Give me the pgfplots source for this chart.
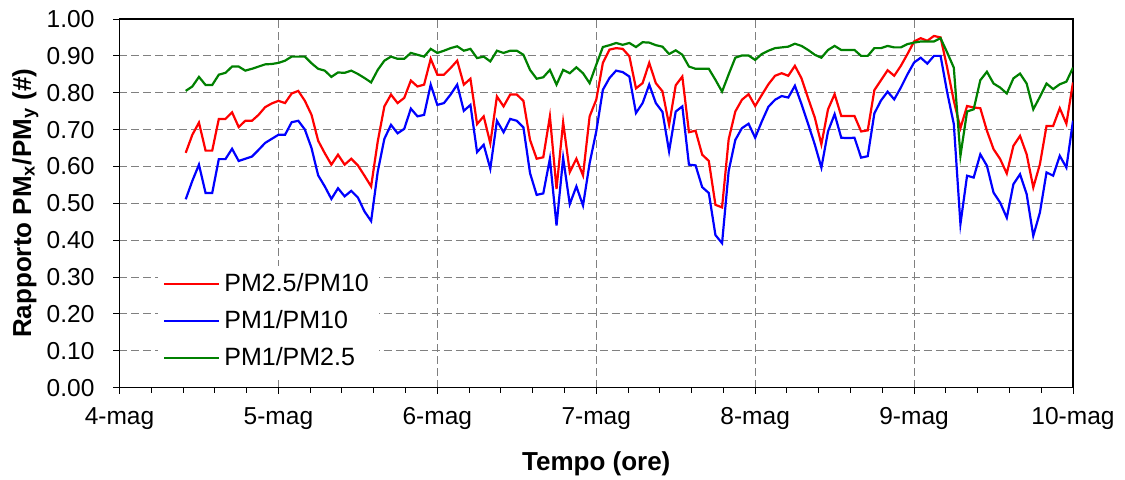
\documentclass[border=0pt]{standalone}
\usepackage{fontspec}
\setmainfont{Liberation Sans}
\usepackage{pgfplots}
\usepackage{pgfplotstable}
\pgfplotsset{compat=1.18}

% h = hours after 4-mag 00:00
% r = PM2.5/PM10, b = PM1/PM10, g = PM1/PM2.5
\pgfplotstableread{
h r b g
10 0.637 0.511 0.805
11 0.686 0.561 0.817
12 0.719 0.605 0.843
13 0.643 0.528 0.821
14 0.643 0.528 0.821
15 0.729 0.620 0.849
16 0.729 0.620 0.854
17 0.747 0.648 0.871
18 0.707 0.615 0.871
19 0.724 0.621 0.860
20 0.724 0.627 0.865
21 0.740 0.645 0.871
22 0.761 0.664 0.877
23 0.771 0.675 0.878
24 0.778 0.686 0.881
25 0.772 0.686 0.887
26 0.798 0.720 0.898
27 0.805 0.724 0.898
28 0.778 0.700 0.898
29 0.740 0.650 0.880
30 0.670 0.576 0.865
31 0.636 0.546 0.860
32 0.605 0.512 0.843
33 0.632 0.541 0.855
34 0.605 0.519 0.854
35 0.621 0.534 0.860
36 0.603 0.516 0.851
37 0.575 0.478 0.840
38 0.546 0.452 0.828
39 0.668 0.586 0.862
40 0.763 0.675 0.887
41 0.795 0.713 0.898
42 0.772 0.690 0.892
43 0.786 0.702 0.892
44 0.833 0.757 0.908
45 0.817 0.736 0.903
46 0.822 0.740 0.898
47 0.892 0.822 0.919
48 0.849 0.767 0.908
49 0.849 0.772 0.914
50 0.867 0.795 0.921
51 0.887 0.822 0.926
52 0.822 0.751 0.914
53 0.838 0.767 0.919
54 0.715 0.639 0.894
55 0.736 0.659 0.898
56 0.663 0.594 0.885
57 0.790 0.724 0.914
58 0.763 0.693 0.908
59 0.795 0.729 0.914
60 0.795 0.724 0.914
61 0.778 0.706 0.903
62 0.672 0.582 0.862
63 0.621 0.523 0.838
64 0.625 0.527 0.842
65 0.736 0.621 0.862
66 0.539 0.440 0.822
67 0.720 0.623 0.862
68 0.585 0.498 0.853
69 0.621 0.546 0.869
70 0.576 0.494 0.853
71 0.736 0.609 0.826
72 0.781 0.695 0.876
73 0.881 0.808 0.924
74 0.917 0.840 0.929
75 0.921 0.860 0.935
76 0.919 0.856 0.930
77 0.899 0.844 0.935
78 0.812 0.745 0.924
79 0.826 0.772 0.937
80 0.881 0.822 0.936
81 0.826 0.772 0.929
82 0.804 0.748 0.925
83 0.713 0.641 0.905
84 0.820 0.749 0.915
85 0.844 0.763 0.903
86 0.693 0.605 0.871
87 0.697 0.603 0.865
88 0.632 0.544 0.865
89 0.615 0.528 0.865
90 0.496 0.414 0.835
91 0.489 0.392 0.803
92 0.674 0.588 0.850
93 0.749 0.672 0.895
94 0.781 0.704 0.901
95 0.796 0.716 0.901
96 0.764 0.678 0.889
97 0.794 0.722 0.905
98 0.823 0.762 0.914
99 0.846 0.781 0.921
100 0.853 0.791 0.923
101 0.846 0.787 0.925
102 0.873 0.819 0.933
103 0.839 0.769 0.927
104 0.785 0.715 0.916
105 0.733 0.660 0.903
106 0.660 0.597 0.895
107 0.755 0.695 0.916
108 0.796 0.742 0.927
109 0.737 0.678 0.916
110 0.737 0.677 0.916
111 0.737 0.678 0.916
112 0.695 0.624 0.900
113 0.698 0.628 0.900
114 0.807 0.744 0.921
115 0.834 0.779 0.921
116 0.861 0.803 0.927
117 0.846 0.782 0.923
118 0.873 0.814 0.923
119 0.905 0.850 0.932
120 0.939 0.882 0.936
121 0.948 0.895 0.939
122 0.941 0.879 0.939
123 0.954 0.900 0.939
124 0.950 0.900 0.948
125 0.868 0.801 0.909
126 0.778 0.715 0.868
127 0.704 0.444 0.629
128 0.764 0.575 0.749
129 0.760 0.570 0.755
130 0.758 0.633 0.834
131 0.697 0.602 0.857
132 0.647 0.529 0.825
133 0.620 0.502 0.814
134 0.581 0.461 0.798
135 0.656 0.552 0.839
136 0.683 0.579 0.852
137 0.633 0.525 0.825
138 0.543 0.412 0.755
139 0.606 0.475 0.789
140 0.710 0.584 0.825
141 0.710 0.575 0.810
142 0.758 0.629 0.823
143 0.716 0.597 0.830
144 0.828 0.724 0.868
}\ratios

\definecolor{exred}{RGB}{255,0,0}
\definecolor{exblue}{RGB}{0,0,255}
\definecolor{exgreen}{RGB}{0,128,0}

\begin{document}
\begin{tikzpicture}
\useasboundingbox (-59.75pt,-45.65pt) rectangle (502.75pt,193.85pt);
\begin{axis}[
  scale only axis,
  width=476.75pt, height=184.35pt,
  xmin=0, xmax=144, ymin=0, ymax=1,
  xtick={0,24,48,72,96,120,144},
  xticklabels={4-mag,5-mag,6-mag,7-mag,8-mag,9-mag,10-mag},
  minor x tick num=4,
  ytick={0,0.1,0.2,0.3,0.4,0.5,0.6,0.7,0.8,0.9,1.0},
  yticklabel style={/pgf/number format/fixed, /pgf/number format/fixed zerofill,
    /pgf/number format/precision=2, /pgf/number format/assume math mode=true,
    xshift=-6pt},
  xticklabel style={yshift=-3.5pt},
  tick pos=left, tick align=outside,
  major tick length=3pt, minor tick length=2.5pt,
  every tick/.style={black, line width=0.5pt},
  xmajorgrids, ymajorgrids,
  major grid style={gray, dash pattern=on 4pt off 2pt, line width=0.5pt},
  axis line style={black, line width=0.6pt},
  ticklabel style={font=\fontsize{12.25}{14}\selectfont},
  xlabel={\bfseries Tempo (ore)},
  ylabel={\bfseries Rapporto PM\textsubscript{x}/PM\textsubscript{y} (\#)},
  label style={font=\fontsize{13}{15}\selectfont},
  xlabel style={at={(axis description cs:0.5,-0.2232)}, anchor=base},
  ylabel style={at={(axis description cs:-0.0928,0.5)}, anchor=base},
  legend style={at={(axis description cs:0.0395,0.0282)}, anchor=south west,
    draw=none, fill=white, font=\fontsize{12.5}{15}\selectfont,
    row sep=4pt, /tikz/every even column/.append style={column sep=1pt}},
  legend cell align=left,
  legend image code/.code={\draw[#1, line width=0.9pt] (0pt,0pt) -- (27.5pt,0pt);},
]
\addplot[color=exred, line width=1.1pt] table[x=h, y=r] {\ratios};
\addlegendentry{PM2.5/PM10}
\addplot[color=exblue, line width=1.1pt] table[x=h, y=b] {\ratios};
\addlegendentry{PM1/PM10}
\addplot[color=exgreen, line width=1.1pt] table[x=h, y=g] {\ratios};
\addlegendentry{PM1/PM2.5}
\end{axis}
\end{tikzpicture}
\end{document}
